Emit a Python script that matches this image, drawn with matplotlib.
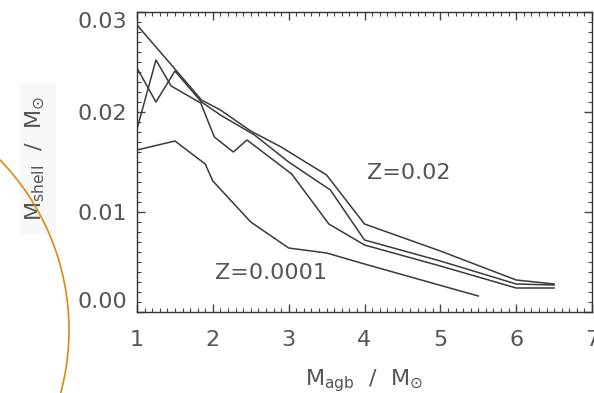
import matplotlib

matplotlib.use("Agg")
import matplotlib.pyplot as plt
from matplotlib.patches import Ellipse, Rectangle
from matplotlib.ticker import MultipleLocator

# shell mass vs AGB mass
mass_a = [1.0, 1.5, 1.85, 2.1, 2.5, 2.9, 3.5, 4.0, 5.0, 6.0, 6.5]
shell_a = [0.0287, 0.0243, 0.0212, 0.0202, 0.0181, 0.0165, 0.0137, 0.0088, 0.0061, 0.0032, 0.0028]

mass_b = [1.0, 1.25, 1.5, 1.85, 2.1, 2.55, 3.0, 3.55, 4.0, 5.0, 6.0, 6.5]
shell_b = [0.0244, 0.0210, 0.0241, 0.0210, 0.0197, 0.0177, 0.0150, 0.0122, 0.0072, 0.0051, 0.0028, 0.0027]

mass_c = [1.0, 1.25, 1.45, 1.84, 2.02, 2.27, 2.45, 3.04, 3.53, 4.0, 5.0, 6.0, 6.5]
shell_c = [0.0183, 0.0252, 0.0226, 0.0209, 0.0175, 0.0160, 0.0172, 0.0138, 0.0088, 0.0067, 0.0046, 0.0024, 0.0024]

mass_low = [1.0, 1.5, 1.9, 2.0, 2.5, 3.0, 3.5, 4.0, 5.5]
shell_low = [0.0162, 0.0171, 0.0148, 0.0131, 0.0090, 0.0064, 0.0059, 0.0048, 0.0016]

x_ticks = [1, 2, 3, 4, 5, 6, 7]
y_ticks = [0.00, 0.01, 0.02, 0.03]
y_tick_labels = ["0.00", "0.01", "0.02", "0.03"]

plt.rcParams["font.family"] = ["DejaVu Sans"]
plt.rcParams["mathtext.fontset"] = "dejavusans"

line_color = "#3a3a3a"
text_color = "#555555"

fig = plt.figure(figsize=(5.94, 3.93), dpi=100)
ax = fig.add_axes([137 / 594, 81 / 393, 455 / 594, 300 / 393])

for xs, ys in [(mass_a, shell_a), (mass_b, shell_b), (mass_c, shell_c), (mass_low, shell_low)]:
    ax.plot(xs, ys, color=line_color, linewidth=1.1)

ax.set_xlim(1, 7)
ax.set_ylim(0, 0.03)
ax.set_xticks(x_ticks)
ax.set_xticklabels([str(t) for t in x_ticks])
ax.set_yticks(y_ticks)
ax.set_yticklabels(y_tick_labels)
ax.xaxis.set_minor_locator(MultipleLocator(0.1))
ax.yaxis.set_minor_locator(MultipleLocator(0.001))
ax.tick_params(which="both", direction="in", top=True, right=True,
               color="#444444", labelcolor=text_color, labelsize=16)
ax.tick_params(which="major", length=6, width=1.0)
ax.tick_params(which="minor", length=3, width=0.8)
ax.tick_params(axis="x", pad=13)
ax.tick_params(axis="y", pad=7)

# IDL style: end labels pulled inside the axis range
yticks = ax.yaxis.get_major_ticks()
yticks[0].label1.set_va("bottom")
yticks[-1].label1.set_va("top")

for spine in ax.spines.values():
    spine.set_color("#333333")
    spine.set_linewidth(1.0)

ax.text(4.03, 0.0139, "Z=0.02", ha="left", va="center", color=text_color, fontsize=16)
ax.text(2.03, 0.0039, "Z=0.0001", ha="left", va="center", color=text_color, fontsize=16)

ax.set_xlabel(r"M$_{\mathrm{agb}}$  /  M$_{\odot}$", color=text_color, fontsize=16, va="center")
ax.xaxis.set_label_coords(0.499, -0.227)
ax.set_ylabel(r"M$_{\mathrm{shell}}$  /  M$_{\odot}$", color=text_color, fontsize=16, va="center")
ax.yaxis.set_label_coords(-0.224, 0.513)

# faint box behind the y label and the orange arc on the left edge
fig.add_artist(Rectangle((20 / 594, 1 - 235 / 393), 36 / 594, 152 / 393,
                         transform=fig.transFigure, facecolor="#f8f8f8",
                         edgecolor="none", zorder=-1))
fig.add_artist(Ellipse((-175 / 594, 1 - 330 / 393), 2 * 244 / 594, 2 * 244 / 393,
                       transform=fig.transFigure, fill=False,
                       edgecolor="#d98a12", linewidth=1.2))

fig.savefig("out.png", dpi=100)
plt.close(fig)
